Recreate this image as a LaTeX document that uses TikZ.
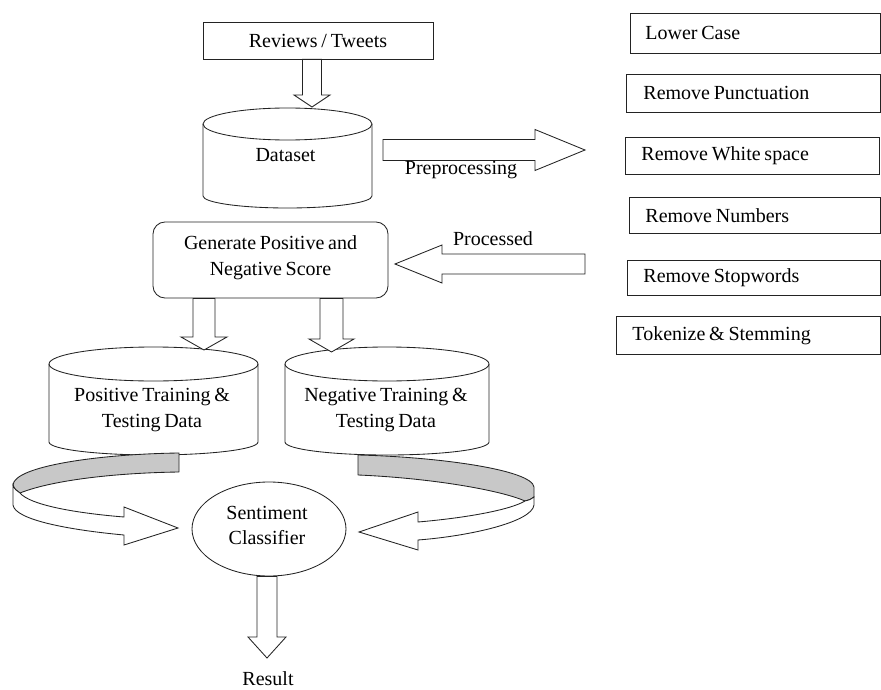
\documentclass[tikz,border=0pt]{standalone}
\usepackage{fontspec}
\setmainfont[WordSpace=0.75]{Liberation Serif}
\usetikzlibrary{shapes.geometric,calc}
\definecolor{bandgrey}{RGB}{200,200,200}
\definecolor{ink}{RGB}{35,35,35}
% vertical block arrow: start node/coord, tip coord, shaft half width, head half width, head length
\newcommand\vblk[5]{\draw[blk] ($(#2|-#1)+({-(#3)},0)$) -- ($(#2)+({-(#3)},{-(#5)})$) -- ($(#2)+({-(#4)},{-(#5)})$) -- (#2) -- ($(#2)+(#4,{-(#5)})$) -- ($(#2)+(#3,{-(#5)})$) -- ($(#2|-#1)+(#3,0)$) -- cycle;}
% horizontal block arrow: start coord, tip coord, shaft half width, head half width, signed head length
\newcommand\hblk[5]{\draw[blk] ($(#1|-#2)+(0,{-(#3)})$) -- ($(#2)+({-(#5)},{-(#3)})$) -- ($(#2)+({-(#5)},{-(#4)})$) -- (#2) -- ($(#2)+({-(#5)},#4)$) -- ($(#2)+({-(#5)},#3)$) -- ($(#1|-#2)+(0,#3)$) -- cycle;}
\newcommand\lbox[2]{\makebox[#1][l]{#2}}
\begin{document}
\begin{tikzpicture}[x=1pt,y=-1pt,line width=0.85pt,draw=ink,
  font=\fontsize{20}{26}\selectfont,
  box/.style={draw=ink,inner sep=0pt,align=center},
  rbox/.style={draw=ink,anchor=north west,inner ysep=0pt},
  txt/.style={inner sep=0pt,align=center},
  blk/.style={draw=ink,fill=white,line join=miter},
  band/.style={draw=ink,fill=bandgrey,line join=round},
  wband/.style={draw=ink,fill=white,line join=miter}]
\useasboundingbox (0,0) rectangle (881,690);

% top box
\node[box,minimum width=230pt,minimum height=37pt] (rev) at (318,40.5) {Reviews / Tweets};

% dataset cylinder
\draw[fill=white] (203,124) -- (203,196) arc[start angle=180,end angle=0,x radius=84.5,y radius=12] -- (372,124);
\draw (287.5,124) ellipse[x radius=84.5,y radius=16];
\node[txt] (ds) at (285.5,155) {Dataset};
\coordinate (dstop) at (312,107);

% generate box
\node[box,rounded corners=12pt,minimum width=235pt,minimum height=76pt] (gen) at (270.5,260) {};
\node[txt] (gentxt) at (270.5,258) {Generate Positive and\\Negative Score};

% positive cylinder
\draw[fill=white] (49,364) -- (49,442) arc[start angle=180,end angle=0,x radius=104.5,y radius=13] -- (258,364);
\draw (153.5,364) ellipse[x radius=104.5,y radius=17];
\node[txt] (pos) at (152,410) {Positive Training \&\\Testing Data};
\coordinate (postop) at (204,350);

% negative cylinder
\draw[fill=white] (285,364) -- (285,442) arc[start angle=180,end angle=0,x radius=102,y radius=13] -- (489,364);
\draw (387,364) ellipse[x radius=102,y radius=17];
\node[txt] (neg) at (386,410) {Negative Training \&\\Testing Data};
\coordinate (negtop) at (331.5,352);

% classifier
\node[draw=ink,ellipse,minimum width=154pt,minimum height=94pt,inner sep=0pt] (sc) at (269,529) {};
\node[txt,font=\fontsize{20}{25}\selectfont] (sctxt) at (267,525.5) {Sentiment\\Classifier};
\node[txt] (res) at (268,679) {Result};
\coordinate (restip) at (267,658);

% right boxes
\node[rbox,inner xsep=15pt,minimum height=40pt] (b1) at (630,13) {\lbox{220pt}{Lower Case}};
\node[rbox,inner xsep=17pt,minimum height=38pt] (b2) at (626,74) {\lbox{220pt}{Remove Punctuation}};
\node[rbox,inner xsep=16pt,minimum height=37pt] (b3) at (625,137) {\lbox{222pt}{Remove White space}};
\node[rbox,inner xsep=16pt,minimum height=36pt] (b4) at (629,197) {\lbox{219pt}{Remove Numbers}};
\node[rbox,inner xsep=16pt,minimum height=35pt] (b5) at (627,260) {\lbox{221pt}{Remove Stopwords}};
\node[rbox,inner xsep=16pt,minimum height=38pt] (b6) at (616,316) {\lbox{232pt}{Tokenize \& Stemming}};

% block arrows
\vblk{rev.south}{dstop}{9.5}{18}{12}
\vblk{gen.south}{postop}{11}{23}{13}
\vblk{gen.south}{negtop}{11.5}{22.5}{13}
\vblk{sc.south}{restip}{10}{19}{21}

\coordinate (pre0) at (383,149.5);
\coordinate (pre1) at (585,150);
\hblk{pre0}{pre1}{10.5}{20.5}{50}
\node[txt] (pretxt) at (461,170) {Preprocessing};

\coordinate (pro0) at (585,263);
\coordinate (pro1) at (395,264);
\hblk{pro0}{pro1}{10}{19}{-47}
\node[txt] (protxt) at (493,239) {Processed};

% left curved arrow
\draw[band] (179,453) .. controls (100,454) and (14,466) .. (13,485)
  .. controls (14,489) and (17,491) .. (20,493)
  .. controls (50,481) and (110,473) .. (179,472) -- cycle;
\draw[wband] (13,485) -- (13,505) .. controls (15,520) and (70,530) .. (124,535)
  -- (124,545) -- (178,528) -- (124,507) -- (124,517)
  .. controls (75,513) and (30,505) .. (20,493)
  .. controls (17,491) and (14,489) .. (13,485) -- cycle;

% right curved arrow
\draw[band] (358,455) .. controls (440,457) and (532,470) .. (534,487)
  -- (534,497) .. controls (532,499) and (529,500) .. (525,501)
  .. controls (500,490) and (430,478) .. (358,475) -- cycle;
\draw[wband] (534,497) -- (534,505) .. controls (532,522) and (470,536) .. (418,540)
  -- (418,550) -- (359,532) -- (418,512) -- (418,522)
  .. controls (465,518) and (510,510) .. (525,501)
  .. controls (529,500) and (532,499) .. (534,497) -- cycle;
\end{tikzpicture}
\end{document}
